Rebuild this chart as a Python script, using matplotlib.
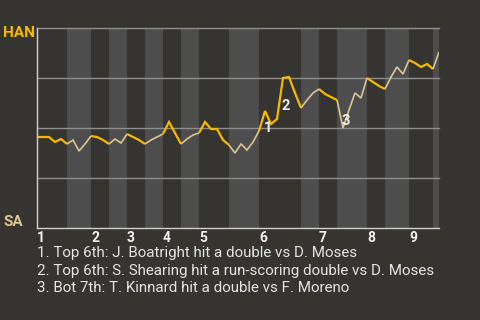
import matplotlib
matplotlib.use('Agg')
import matplotlib.pyplot as plt
import numpy as np

plt.rcParams['font.family'] = ['Roboto', 'DejaVu Sans']

# ---- data ----
away_team = "HAN"
home_team = "SA"
# HAN win probability (%) after each plate appearance (index 0 = pre-game)
han_win_pct = [45.5, 45.5, 45.5, 43, 44.5, 42, 44, 38.5, 42, 46,
               45.5, 44, 42, 44.5, 42.5, 47, 45.5, 44, 42, 44,
               45.5, 47, 53, 47.5, 42, 44.5, 46.5, 47.5, 53, 49.5,
               49.5, 44, 41.5, 37.5, 42, 39, 43, 48.5, 58.5, 52,
               54.5, 75, 75.5, 67.5, 60, 64, 67.5, 69.5, 67, 65.5,
               64, 50, 59, 67.5, 65, 75, 73, 71, 69.5, 75.5,
               80.5, 77, 84, 82.5, 80.5, 82, 79.5, 88]
# index where each half-inning begins (T1, B1, T2, B2, ...)
half_inning_starts = [0, 5, 9, 12, 15, 18, 21, 24, 27, 32, 37, 44, 47, 50, 55, 58, 62, 66]
inning_labels = ['1', '2', '3', '4', '5', '6', '7', '8', '9']
event_points = [38, 41, 51]
event_notes = [
    "1. Top 6th: J. Boatright hit a double vs D. Moses",
    "2. Top 6th: S. Shearing hit a run-scoring double vs D. Moses",
    "3. Bot 7th: T. Kinnard hit a double vs F. Moreno",
]

# ---- style ----
bg = '#353430'
band = '#4d4d4d'
yellow = '#f7b900'
cream = '#dcc493'
grid_c = '#8e8e8e'
spine_c = '#cfcfcf'
text_c = '#e4e4e4'

W, H = 480, 320
fig = plt.figure(figsize=(4.8, 3.2), dpi=100, facecolor=bg)
ax = fig.add_axes([37 / W, (H - 228) / H, 402 / W, 200 / H])
ax.set_facecolor(bg)

p = np.array(han_win_pct, dtype=float)
x = np.arange(len(p))
last = len(p) - 1
ax.set_xlim(0, last)
ax.set_ylim(0, 100)

ends = half_inning_starts[1:] + [last]
for h, (s, e) in enumerate(zip(half_inning_starts, ends)):
    if h % 2 == 1:
        ax.axvspan(s, e, color=band, lw=0, zorder=0)

for lvl in [25, 50, 75, 100]:
    ax.axhline(lvl, color=grid_c, lw=1, zorder=1, clip_on=False)

for h, (s, e) in enumerate(zip(half_inning_starts, ends)):
    top = (h % 2 == 0)
    ax.plot(x[s:e + 1], p[s:e + 1], color=yellow if top else cream,
            lw=1.6 if top else 1.2, zorder=3, solid_joinstyle='miter',
            solid_capstyle='butt')

for sp in ['top', 'right']:
    ax.spines[sp].set_visible(False)
for sp in ['left', 'bottom']:
    ax.spines[sp].set_color(spine_c)
    ax.spines[sp].set_linewidth(1)
    ax.spines[sp].set_zorder(4)

ax.set_yticks([])
ax.set_xticks(half_inning_starts[0::2], inning_labels)
ax.tick_params(axis='x', length=0, pad=2.5, labelsize=10, labelcolor='#f2f2f2')
for lab in ax.get_xticklabels():
    lab.set_horizontalalignment('left')
    lab.set_fontweight('bold')

for k, idx in enumerate(event_points):
    xm = (x[idx - 1] + x[idx]) / 2
    ym = (p[idx - 1] + p[idx]) / 2
    ax.annotate(str(k + 1), (xm, ym), xytext=(6, -7), textcoords='offset pixels',
                ha='center', va='center', fontsize=10.5, fontweight='bold',
                color='#eeeeee', zorder=5)

fig.text(3 / W, (H - 26) / H, away_team, ha='left', va='top', fontsize=11,
         fontweight='bold', color=yellow)
fig.text(3 / W, (H - 226) / H, home_team, ha='left', va='baseline', fontsize=11,
         fontweight='bold', color=cream)

for i, note in enumerate(event_notes):
    fig.text(37 / W, (H - (253 + 17.7 * i)) / H, note, ha='left', va='center',
             fontsize=10.9, color=text_c)

fig.savefig('out.png', dpi=100, facecolor=bg)
